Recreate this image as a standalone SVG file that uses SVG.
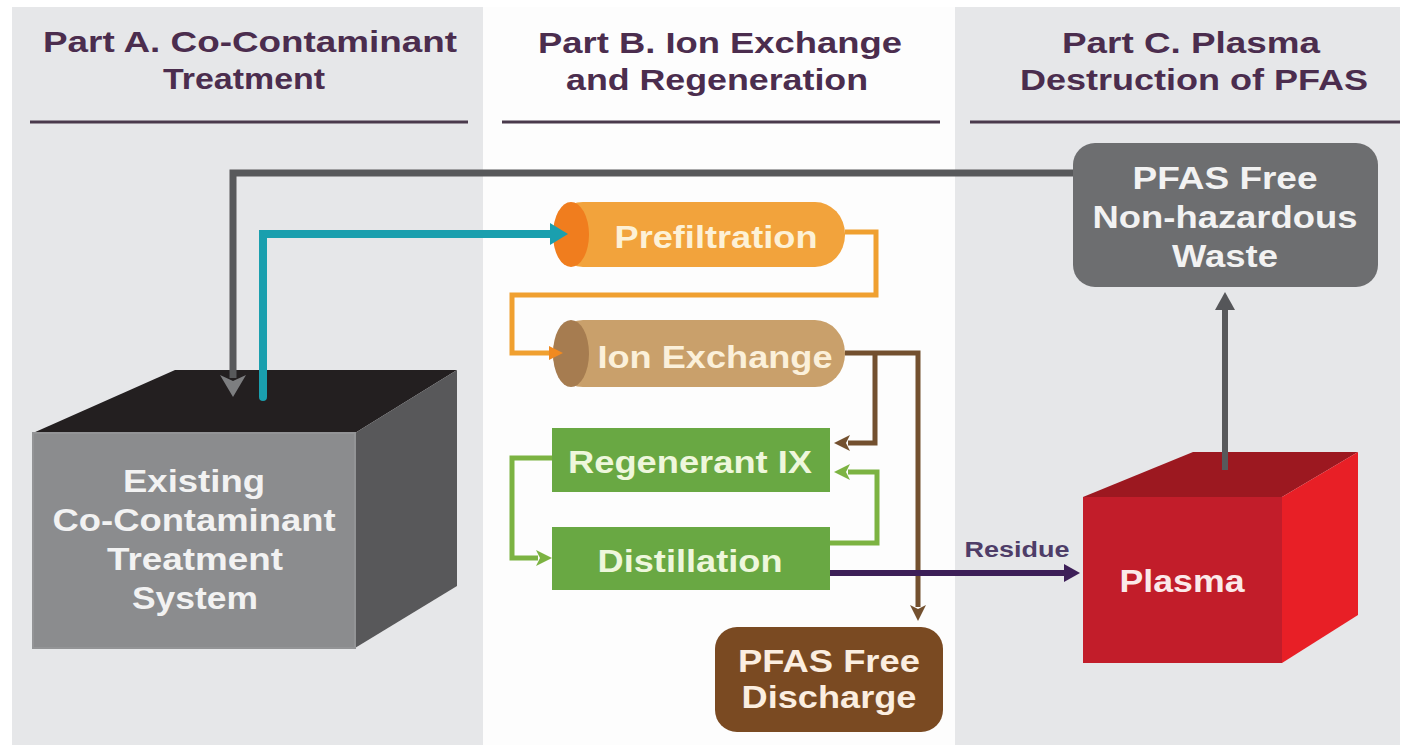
<svg xmlns="http://www.w3.org/2000/svg" width="1407" height="748" viewBox="0 0 1407 748">
<style>
.hdr{font-family:"Liberation Sans",Arial,sans-serif;font-weight:bold;font-size:30px;fill:#4b2d4e;text-anchor:middle}
.lbl{font-family:"Liberation Sans",Arial,sans-serif;font-weight:bold;font-size:32px;text-anchor:middle}
.rule{stroke:#4a3a4c;stroke-width:3}
.conn{fill:none;stroke-linejoin:miter}
</style>
<defs>
<marker id="mTeal" markerUnits="userSpaceOnUse" markerWidth="20" markerHeight="22" refX="1" refY="11" orient="auto"><path d="M0,0 L18,11 L0,22 z" fill="#1a9fae"/></marker>
<marker id="mOrange" markerUnits="userSpaceOnUse" markerWidth="16" markerHeight="16" refX="1" refY="8" orient="auto"><path d="M0,1 L14,8 L0,15 z" fill="#f08a20"/></marker>
<marker id="mBrown" markerUnits="userSpaceOnUse" markerWidth="18" markerHeight="18" refX="2" refY="9" orient="auto"><path d="M0,1 L16,9 L0,17 L4,9 z" fill="#73502f"/></marker>
<marker id="mGreen" markerUnits="userSpaceOnUse" markerWidth="18" markerHeight="18" refX="2" refY="9" orient="auto"><path d="M0,1 L16,9 L0,17 L4,9 z" fill="#7cb342"/></marker>
<marker id="mPurple" markerUnits="userSpaceOnUse" markerWidth="18" markerHeight="20" refX="1" refY="10" orient="auto"><path d="M0,1 L16,10 L0,19 z" fill="#3d1f58"/></marker>
<marker id="mGray" markerUnits="userSpaceOnUse" markerWidth="20" markerHeight="22" refX="1" refY="11" orient="auto"><path d="M0,1 L18,11 L0,21 z" fill="#555659"/></marker>
<marker id="mGrayL" markerUnits="userSpaceOnUse" markerWidth="24" markerHeight="26" refX="3" refY="13" orient="auto"><path d="M0,0 L22,13 L0,26 L6,13 z" fill="#7d7e80"/></marker>
</defs>

<rect width="1407" height="748" fill="#ffffff"/>
<g id="panels">
<rect x="12" y="7" width="471" height="738" fill="#e6e7e9"/>
<rect x="483" y="7" width="472" height="738" fill="#fdfdfd"/>
<rect x="955" y="7" width="445" height="738" fill="#e6e7e9"/>
</g>

<g id="headers">
<text class="hdr" x="250" y="52" textLength="414" lengthAdjust="spacingAndGlyphs">Part A. Co-Contaminant</text>
<text class="hdr" x="244" y="89" textLength="162" lengthAdjust="spacingAndGlyphs">Treatment</text>
<line class="rule" x1="30" y1="122" x2="468" y2="122"/>
<text class="hdr" x="720" y="53" textLength="364" lengthAdjust="spacingAndGlyphs">Part B. Ion Exchange</text>
<text class="hdr" x="717" y="90" textLength="302" lengthAdjust="spacingAndGlyphs">and Regeneration</text>
<line class="rule" x1="502" y1="122" x2="940" y2="122"/>
<text class="hdr" x="1191" y="53" textLength="258" lengthAdjust="spacingAndGlyphs">Part C. Plasma</text>
<text class="hdr" x="1194" y="90" textLength="348" lengthAdjust="spacingAndGlyphs">Destruction of PFAS</text>
<line class="rule" x1="970" y1="122" x2="1400" y2="122"/>
</g>

<g id="existing-system">
<polygon points="33,433 175,370 457,370 355,433" fill="#231f20"/>
<polygon points="355,433 457,370 457,586 355,648" fill="#58585a"/>
<rect x="33" y="433" width="322" height="215" fill="#8b8c8e" stroke="#939496" stroke-width="2"/>
<text class="lbl" fill="#f2f2f2" x="194" y="492" textLength="142" lengthAdjust="spacingAndGlyphs">Existing</text>
<text class="lbl" fill="#f2f2f2" x="194" y="531" textLength="283" lengthAdjust="spacingAndGlyphs">Co-Contaminant</text>
<text class="lbl" fill="#f2f2f2" x="195" y="570" textLength="176" lengthAdjust="spacingAndGlyphs">Treatment</text>
<text class="lbl" fill="#f2f2f2" x="195" y="609" textLength="126" lengthAdjust="spacingAndGlyphs">System</text>
</g>

<g id="prefiltration">
<rect x="553" y="202" width="292" height="65" rx="30" ry="32" fill="#f2a33c"/>
<ellipse cx="571" cy="234.5" rx="18" ry="32.5" fill="#f07d1e"/>
<text class="lbl" fill="#fdf1d6" x="716" y="248" textLength="203" lengthAdjust="spacingAndGlyphs">Prefiltration</text>
</g>

<g id="ion-exchange">
<rect x="553" y="320" width="292" height="67" rx="30" ry="33" fill="#c9a06b"/>
<ellipse cx="571" cy="353.5" rx="18" ry="33.5" fill="#a67c50"/>
<text class="lbl" fill="#fbf0da" x="715" y="368" textLength="235" lengthAdjust="spacingAndGlyphs">Ion Exchange</text>
</g>

<g id="regenerant-ix">
<rect x="552" y="428" width="278" height="64" fill="#69a843"/>
<text class="lbl" fill="#eef7dc" x="690" y="473" textLength="244" lengthAdjust="spacingAndGlyphs">Regenerant IX</text>
</g>

<g id="distillation">
<rect x="552" y="527" width="278" height="63" fill="#69a843"/>
<text class="lbl" fill="#eef7dc" x="690" y="572" textLength="185" lengthAdjust="spacingAndGlyphs">Distillation</text>
</g>

<g id="pfas-free-discharge">
<rect x="715" y="627" width="228" height="105" rx="22" fill="#7a4a22"/>
<text class="lbl" fill="#fbeee0" x="829" y="672" textLength="182" lengthAdjust="spacingAndGlyphs">PFAS Free</text>
<text class="lbl" fill="#fbeee0" x="829" y="708" textLength="175" lengthAdjust="spacingAndGlyphs">Discharge</text>
</g>

<g id="pfas-free-waste">
<rect x="1073" y="143" width="305" height="144" rx="22" fill="#6d6e70"/>
<text class="lbl" fill="#f2f2f2" x="1225" y="189" textLength="185" lengthAdjust="spacingAndGlyphs">PFAS Free</text>
<text class="lbl" fill="#f2f2f2" x="1225" y="228" textLength="265" lengthAdjust="spacingAndGlyphs">Non-hazardous</text>
<text class="lbl" fill="#f2f2f2" x="1225" y="267" textLength="106" lengthAdjust="spacingAndGlyphs">Waste</text>
</g>

<g id="plasma">
<polygon points="1083,497 1193,452 1358,452 1282,497" fill="#9c1820"/>
<polygon points="1282,497 1358,452 1358,615 1282,663" fill="#e81f26"/>
<rect x="1083" y="497" width="199" height="166" fill="#c21d2a"/>
<text class="lbl" fill="#fbe9e9" x="1182" y="592" textLength="125" lengthAdjust="spacingAndGlyphs">Plasma</text>
</g>

<g id="connectors">
<path class="conn" d="M1073,173 H233 V378" stroke="#58595b" stroke-width="7" marker-end="url(#mGrayL)"/>
<path class="conn" d="M263,397 V234 H551" stroke="#1a9fae" stroke-width="8" stroke-linecap="round" marker-end="url(#mTeal)"/>
<path class="conn" d="M845,232 H876 V295 H512 V353 H550" stroke="#f0a030" stroke-width="5" marker-end="url(#mOrange)"/>
<path class="conn" d="M845,353 H918 V607" stroke="#73502f" stroke-width="5" marker-end="url(#mBrown)"/>
<path class="conn" d="M875,353 V443 H848" stroke="#73502f" stroke-width="5" marker-end="url(#mBrown)"/>
<path class="conn" d="M552,458 H512 V558 H538" stroke="#7cb342" stroke-width="5" marker-end="url(#mGreen)"/>
<path class="conn" d="M830,543 H877 V472 H848" stroke="#7cb342" stroke-width="5" marker-end="url(#mGreen)"/>
<path class="conn" d="M830,573 H1065" stroke="#3d1f58" stroke-width="6" marker-end="url(#mPurple)"/>
<path class="conn" d="M1225,470 V309" stroke="#58595b" stroke-width="6" marker-end="url(#mGray)"/>
<text x="1017" y="557" font-family="Liberation Sans, Arial, sans-serif" font-weight="bold" font-size="22" fill="#4e3d68" text-anchor="middle" textLength="105" lengthAdjust="spacingAndGlyphs">Residue</text>
</g>
</svg>
